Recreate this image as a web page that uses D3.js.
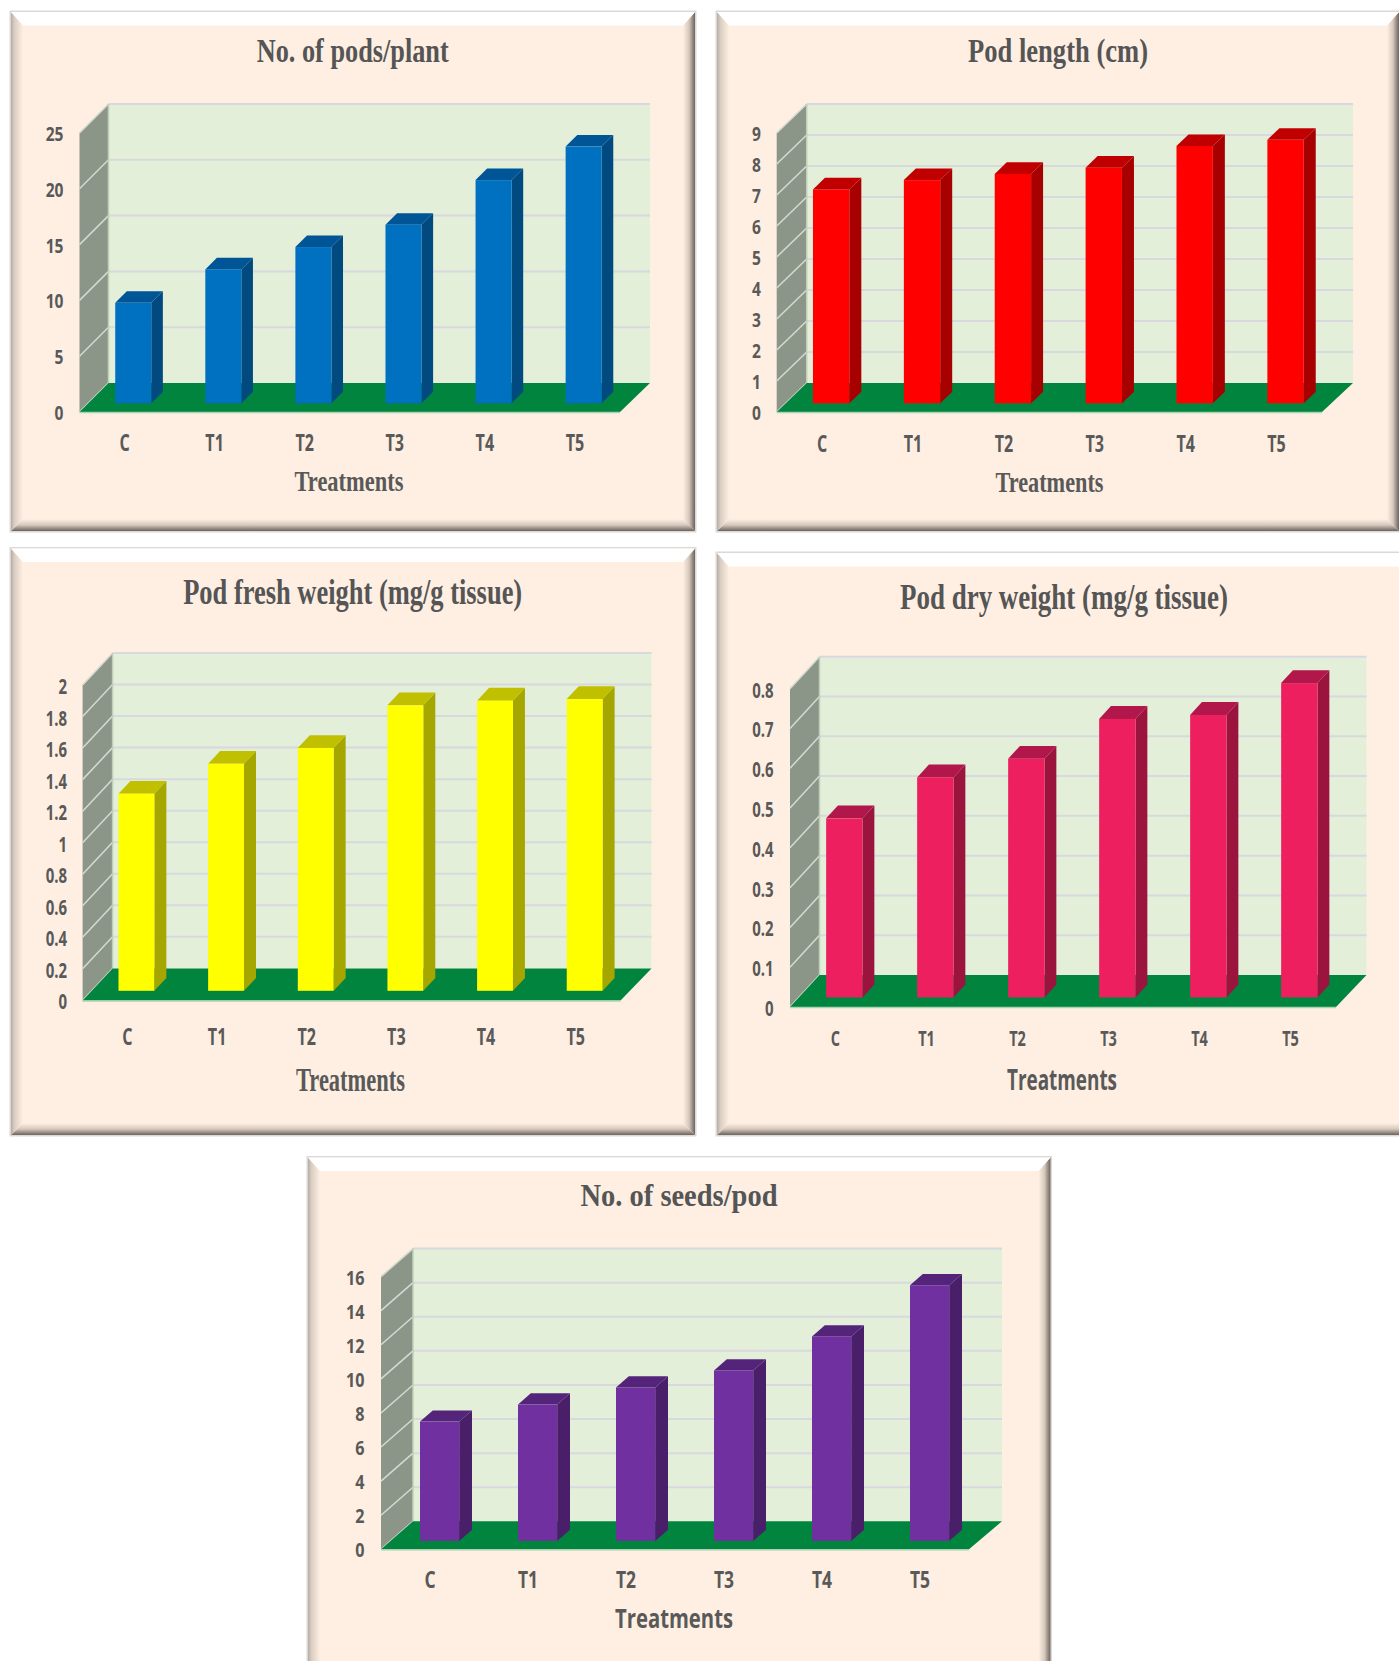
<!DOCTYPE html>
<html>
<head>
<meta charset="utf-8">
<style>
  html, body { margin: 0; padding: 0; background: #fff; }
  svg { display: block; }
  .serif { font-family: "Liberation Serif", serif; font-weight: 700; }
  .sans { font-family: "Open Sans", sans-serif; font-weight: 700; }
</style>
<script src="https://cdn.jsdelivr.net/npm/d3@7"></script>
</head>
<body>
<svg id="chart" width="1399" height="1661"></svg>
<script>
// Treatments shared by all five plots
const treatments = ["C", "T1", "T2", "T3", "T4", "T5"];

// Measured means per treatment
const podsPerPlant = [9, 12, 14, 16, 20, 23];
const podLength = [6.9, 7.2, 7.4, 7.6, 8.3, 8.5];
const podFreshWeight = [1.25, 1.44, 1.54, 1.81, 1.84, 1.85];
const podDryWeight = [0.45, 0.553, 0.6, 0.7, 0.71, 0.79];
const seedsPerPod = [7, 8, 9, 10, 12, 15];

// Axis tick labels
const podsTicks = ["0", "5", "10", "15", "20", "25"];
const lengthTicks = ["0", "1", "2", "3", "4", "5", "6", "7", "8", "9"];
const freshTicks = ["0", "0.2", "0.4", "0.6", "0.8", "1", "1.2", "1.4", "1.6", "1.8", "2"];
const dryTicks = ["0", "0.1", "0.2", "0.3", "0.4", "0.5", "0.6", "0.7", "0.8"];
const seedTicks = ["0", "2", "4", "6", "8", "10", "12", "14", "16"];

// Titles
const titles = ["No. of pods/plant", "Pod length (cm)", "Pod fresh weight (mg/g tissue)", "Pod dry weight (mg/g tissue)", "No. of seeds/pod"];
const xAxisTitle = "Treatments";

// Card frame, plot box and type settings for each panel
const layouts = [
  { card: [11, 12, 695, 531], fx: [79.5, 620], fy: 412, dx: 29, dy: 29, top: 104,
    tickRight: 63.5, tickSize: 19, tickScale: 0.82, catY: 443, catSize: 23, catScale: 0.7,
    title: [352.7, 51, 33, 192], xt: [349, 481.5, 29, 109, "serif"],
    colors: ["#0070C0", "#004A80", "#005596"] },
  { card: [717, 12, 1399, 531], fx: [776.7, 1322], fy: 412, dx: 30, dy: 29, top: 104,
    tickRight: 761, tickSize: 19, tickScale: 0.82, catY: 444, catSize: 23, catScale: 0.7,
    title: [1058, 51, 33, 180], xt: [1049.5, 482, 29, 108, "serif"],
    colors: ["#FF0000", "#A60000", "#C00000"] },
  { card: [11, 548.5, 695, 1135], fx: [82.6, 620.5], fy: 1000.4, dx: 30, dy: 32, top: 653,
    tickRight: 67, tickSize: 22, tickScale: 0.68, catY: 1036.7, catSize: 23, catScale: 0.7,
    title: [352.7, 592.8, 35, 339], xt: [350.5, 1079.6, 33, 109, "serif"],
    colors: ["#FFFF00", "#A6A600", "#C0C000"] },
  { card: [717, 553, 1412, 1135], fx: [790, 1336], fy: 1007, dx: 29.5, dy: 32, top: 656.7,
    tickRight: 773.6, tickSize: 22, tickScale: 0.68, catY: 1038, catSize: 22, catScale: 0.66,
    title: [1064, 597, 36, 328], xt: [1062, 1080.5, 28, 110, "sans"],
    colors: ["#ED1F5F", "#9B143E", "#B1174A"] },
  { card: [308, 1157.5, 1050.5, 1690], fx: [381, 969], fy: 1549.3, dx: 32, dy: 28, top: 1248.6,
    tickRight: 364.5, tickSize: 19, tickScale: 0.85, catY: 1580, catSize: 23, catScale: 0.76,
    title: [679, 1196, 32, 197], xt: [674, 1619, 26, 118, "sans"],
    colors: ["#7030A0", "#481F68", "#54247A"] }
];

const series = [podsPerPlant, podLength, podFreshWeight, podDryWeight, seedsPerPod];
const tickSets = [podsTicks, lengthTicks, freshTicks, dryTicks, seedTicks];

const TEXT = "#595959";
const CARD = "#FEEFE2";
const WALL = "#E3EFD9";
const SIDE = "#8C9688";
const FLOOR = "#01853E";
const GRID = "#D8D8DE";
const BEVEL = 12;
const BEVEL_TOP = 13.5;

const svg = d3.select("#chart");
const defs = svg.append("defs");

// One gradient per bevel edge, all running between the card colour and the edge shade
function edgeGradient(id, x2, y2, stops) {
  const g = defs.append("linearGradient").attr("id", id)
    .attr("x1", 0).attr("y1", 0).attr("x2", x2).attr("y2", y2);
  stops.forEach(([o, c]) => g.append("stop").attr("offset", o).attr("stop-color", c));
}
edgeGradient("bevel-left", 1, 0, [[0, "#B5ABA3"], [0.25, "#D8CBC0"], [1, "#FEEFE2"]]);
edgeGradient("bevel-right", 1, 0, [[0, "#FEEFE2"], [0.5, "#D6C8BC"], [1, "#6B635C"]]);
edgeGradient("bevel-bottom", 0, 1, [[0, "#FEEFE2"], [0.5, "#D6C8BC"], [1, "#6B635C"]]);

function drawCard(g, [x0, y0, x1, y1]) {
  g.append("rect").attr("x", x0 - 1.5).attr("y", y0 - 1.5)
    .attr("width", x1 - x0 + 3).attr("height", y1 - y0 + 3).attr("fill", "#D9D9D9");
  g.append("rect").attr("x", x0).attr("y", y0)
    .attr("width", x1 - x0).attr("height", y1 - y0).attr("fill", CARD);
  const b = BEVEL, t = BEVEL_TOP;
  const faces = [
    [[[x0, y1], [x1, y1], [x1 - b, y1 - b], [x0 + b, y1 - b]], "url(#bevel-bottom)"],
    [[[x1, y0], [x1, y1], [x1 - b, y1 - b], [x1 - b, y0 + t]], "url(#bevel-right)"],
    [[[x0, y0], [x0, y1], [x0 + b, y1 - b], [x0 + b, y0 + t]], "url(#bevel-left)"],
    [[[x0, y0], [x1, y0], [x1 - b, y0 + t], [x0 + b, y0 + t]], "#FFFFFF"]
  ];
  g.selectAll("polygon.bevel").data(faces).join("polygon").attr("class", "bevel")
    .attr("points", d => d[0].join(" ")).attr("fill", d => d[1]);
}

function drawPanel(i) {
  const L = layouts[i], values = series[i], ticks = tickSets[i];
  const g = svg.append("g");
  drawCard(g, L.card);

  const [fx0, fx1] = L.fx;
  const { fy, dx, dy, top } = L;
  const tickValues = ticks.map(Number);
  const max = d3.max(tickValues);
  const backRight = fx1 + dx + 1;

  // Heights measured upward from a plane's own baseline, so the one scale serves every depth
  const y = d3.scaleLinear().domain([0, max]).range([0, fy - dy - top]);
  const x = d3.scaleBand().domain(treatments).range([fx0, fx1]).paddingInner(0.6).paddingOuter(0.3);

  const poly = pts => pts.join(" ");

  // Back wall
  g.append("polygon").attr("fill", WALL).attr("points", poly([
    [fx0 + dx, top], [backRight, top], [backRight, fy - dy], [fx0 + dx, fy - dy]]));
  // Side wall
  g.append("polygon").attr("fill", SIDE).attr("points", poly([
    [fx0, fy - y(max)], [fx0 + dx, top], [fx0 + dx, fy - dy], [fx0, fy]]));
  // Wall rules, running along the back and down the side
  g.selectAll("line.back").data(tickValues.filter(v => v > 0)).join("line").attr("class", "back")
    .attr("x1", fx0 + dx).attr("x2", backRight)
    .attr("y1", v => fy - dy - y(v)).attr("y2", v => fy - dy - y(v))
    .attr("stroke", GRID).attr("stroke-width", 2);
  g.selectAll("line.side").data(tickValues).join("line").attr("class", "side")
    .attr("x1", fx0).attr("x2", fx0 + dx)
    .attr("y1", v => fy - y(v)).attr("y2", v => fy - dy - y(v))
    .attr("stroke", "#D5DAD3").attr("stroke-width", 1.5);
  g.append("line").attr("x1", fx0 + dx).attr("x2", fx0 + dx).attr("y1", top).attr("y2", fy - dy)
    .attr("stroke", "#BFD0B8").attr("stroke-width", 1.5);
  // Floor
  g.append("polygon").attr("fill", FLOOR).attr("points", poly([
    [fx0, fy], [fx1, fy], [backRight, fy - dy], [fx0 + dx, fy - dy]]));
  g.append("line").attr("x1", fx0).attr("x2", fx1).attr("y1", fy + 0.5).attr("y2", fy + 0.5)
    .attr("stroke", "#A9D3B2").attr("stroke-width", 1.5);

  // Columns: front face sits 30% into the floor depth and is 40% of it deep
  const ox = dx * 0.3, oy = dy * 0.3, cx = dx * 0.4, cy = dy * 0.4;
  const [front, side, lid] = L.colors;
  const rows = treatments.map((t, k) => ({ t, v: values[k] }));
  const bars = g.selectAll("g.bar").data(rows).join("g").attr("class", "bar");
  bars.append("polygon").attr("fill", side).attr("points", d => {
    const xr = x(d.t) + ox + x.bandwidth(), yb = fy - oy, yt = yb - y(d.v);
    return poly([[xr, yt], [xr + cx, yt - cy], [xr + cx, yb - cy], [xr, yb]]);
  });
  bars.append("polygon").attr("fill", lid).attr("points", d => {
    const xl = x(d.t) + ox, xr = xl + x.bandwidth(), yt = fy - oy - y(d.v);
    return poly([[xl, yt], [xr, yt], [xr + cx, yt - cy], [xl + cx, yt - cy]]);
  });
  bars.append("rect").attr("fill", front)
    .attr("x", d => x(d.t) + ox).attr("width", x.bandwidth())
    .attr("y", d => fy - oy - y(d.v)).attr("height", d => y(d.v));

  // Value axis labels, condensed horizontally
  const yAxisScale = d3.scaleLinear().domain([0, max]).range([fy + 1, fy + 1 - y(max)]);
  const yAxis = g.append("g").attr("class", "sans")
    .call(d3.axisLeft(yAxisScale).tickValues(tickValues).tickFormat((v, k) => ticks[k]).tickSize(0));
  yAxis.select(".domain").remove();
  yAxis.attr("font-family", null).attr("font-size", null);
  yAxis.selectAll("text")
    .attr("x", 0).attr("dy", "0.34em").attr("text-anchor", "end")
    .attr("fill", TEXT).style("font-size", L.tickSize + "px")
    .attr("transform", `translate(${L.tickRight},0) scale(${L.tickScale},1)`);

  // Category labels
  const xAxis = g.append("g").attr("class", "sans")
    .attr("transform", `translate(0,${L.catY})`)
    .call(d3.axisBottom(x).tickSize(0));
  xAxis.select(".domain").remove();
  xAxis.attr("font-family", null).attr("font-size", null);
  xAxis.selectAll("text")
    .attr("y", 0).attr("dy", "0.36em").attr("text-anchor", "middle")
    .attr("fill", TEXT).style("font-size", L.catSize + "px")
    .attr("transform", `scale(${L.catScale},1)`);

  // Titles are fitted to a set width since the type is condensed
  const [tx, ty, ts, tw] = L.title;
  g.append("text").attr("class", "serif").attr("x", tx).attr("y", ty).attr("dy", "0.32em")
    .attr("text-anchor", "middle").attr("fill", "#555555").style("font-size", ts + "px")
    .attr("textLength", tw).attr("lengthAdjust", "spacingAndGlyphs").text(titles[i]);

  const [ax, ay, as, aw, af] = L.xt;
  g.append("text").attr("class", af).attr("x", ax).attr("y", ay).attr("dy", "0.34em")
    .attr("text-anchor", "middle").attr("fill", TEXT).style("font-size", as + "px")
    .attr("textLength", aw).attr("lengthAdjust", "spacingAndGlyphs").text(xAxisTitle);
}

layouts.forEach((_, i) => drawPanel(i));
</script>
</body>
</html>
